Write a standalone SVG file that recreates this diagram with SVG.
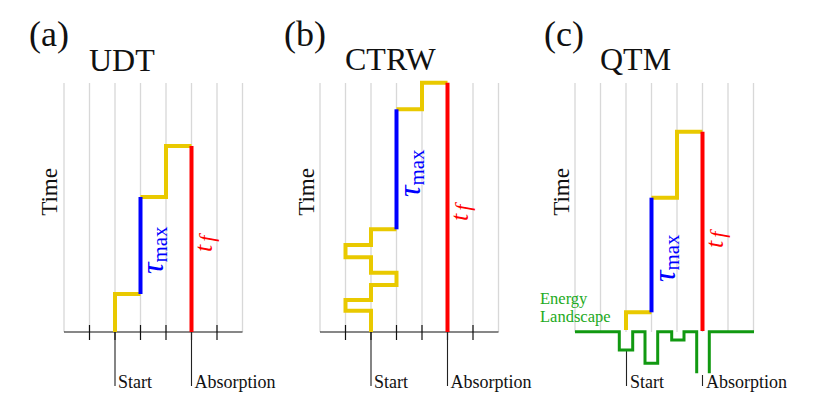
<svg xmlns="http://www.w3.org/2000/svg" width="831" height="416" viewBox="0 0 831 416">
<style>
.lbl{font-size:36px}
.ttl{font-size:32px}
.time{font-size:23px;text-anchor:middle}
.small{font-size:18px}
.grid{stroke:#d8d8d8;stroke-width:1.3;fill:none}
.axis{stroke:#111;stroke-width:1.2;fill:none}
.mark{stroke:#222;stroke-width:1.1;fill:none}
.yel{stroke:#e9c900;stroke-width:4;fill:none;stroke-linejoin:miter}
.blu{stroke:#0000ff;stroke-width:4;fill:none}
.red{stroke:#ff0000;stroke-width:4;fill:none}
.grn{stroke:#119911;stroke-width:3;fill:none;stroke-linejoin:miter}
.tau{fill:#0000ff}
.tf{fill:#ff0000}
.eng{fill:#22aa22;font-size:16.5px}
</style>
<g font-family="Liberation Serif, DejaVu Serif, serif" fill="#111">
<g id="panel-a">
<text class="lbl" x="29" y="46">(a)</text>
<text class="ttl" x="89" y="71">UDT</text>
<text class="time" transform="translate(57,192) rotate(-90)">Time</text>
<path class="grid" d="M64,83V332M89.5,83V332M115,83V332M140.5,83V332M166,83V332M191.5,83V332M217,83V332M242.5,83V332"/>
<path class="axis" d="M64,332H242.5M89.5,325V340M115,325V340M140.5,325V340M166,325V340M191.5,325V340M217,325V340"/>
<path class="mark" d="M115,332V386M191.5,332V386"/>
<path class="yel" d="M115,332V294H140.5"/>
<path class="yel" d="M140.5,197H166V146H191.5"/>
<path class="blu" d="M140.5,294V197"/>
<path class="red" d="M191.5,146V332"/>
<text class="tau" transform="translate(163,274) rotate(-90)"><tspan font-style="italic" font-size="32">τ</tspan><tspan font-size="21" dy="4">max</tspan></text>
<text class="tf" transform="translate(212,252) rotate(-90)"><tspan font-style="italic" font-size="26">t</tspan><tspan font-style="italic" font-size="22" dx="3" dy="2">f</tspan></text>
<text class="small" x="118" y="388">Start</text>
<text class="small" x="194.5" y="388">Absorption</text>
</g>
<g id="panel-b">
<text class="lbl" x="284" y="46">(b)</text>
<text class="ttl" x="345" y="70">CTRW</text>
<text class="time" transform="translate(314,192) rotate(-90)">Time</text>
<path class="grid" d="M320,83V332M345.5,83V332M371,83V332M396.5,83V332M422,83V332M447.5,83V332M473,83V332M498.5,83V332"/>
<path class="axis" d="M320,332H498.5M345.5,325V340M371,325V340M396.5,325V340M422,325V340M447.5,325V340M473,325V340"/>
<path class="mark" d="M371,332V386M447.5,332V386"/>
<path class="yel" d="M371,332V310.7H345.5V300H371V285H396.5V272.7H371V257.3H345.5V245H371V229.3H396.5"/>
<path class="yel" d="M396.5,109.3H422V82.7H447.5"/>
<path class="blu" d="M396.5,229.3V109.3"/>
<path class="red" d="M447.5,82.7V332"/>
<text class="tau" transform="translate(420,197) rotate(-90)"><tspan font-style="italic" font-size="32">τ</tspan><tspan font-size="21" dy="4">max</tspan></text>
<text class="tf" transform="translate(468,221) rotate(-90)"><tspan font-style="italic" font-size="26">t</tspan><tspan font-style="italic" font-size="22" dx="3" dy="2">f</tspan></text>
<text class="small" x="374" y="388">Start</text>
<text class="small" x="450.5" y="388">Absorption</text>
</g>
<g id="panel-c">
<text class="lbl" x="544" y="46">(c)</text>
<text class="ttl" x="600" y="70">QTM</text>
<text class="time" transform="translate(569,192) rotate(-90)">Time</text>
<path class="grid" d="M575,83V332M600.5,83V332M626,83V332M651.5,83V332M677,83V332M702.5,83V332M728,83V332M753.5,83V332"/>
<text class="eng" x="540" y="303.5">Energy</text>
<text class="eng" x="540" y="322">Landscape</text>
<path class="mark" d="M626.5,350V386M702.5,375V386"/>
<path class="yel" d="M626,330V312.3H651.5"/>
<path class="yel" d="M651.5,197.7H677V131.7H702.5"/>
<path class="blu" d="M651.5,312.3V197.7"/>
<path class="red" d="M702.5,131.7V331"/>
<path class="grn" d="M575,331.7H619.3V350H632.7V331.7H645V363.3H657.7V331.7H671.7V340H684V331.7H696.7V373.3"/>
<path class="grn" d="M709.3,373.3V331.7H754"/>
<text class="tau" transform="translate(675,282) rotate(-90)"><tspan font-style="italic" font-size="32">τ</tspan><tspan font-size="21" dy="4">max</tspan></text>
<text class="tf" transform="translate(723,248) rotate(-90)"><tspan font-style="italic" font-size="26">t</tspan><tspan font-style="italic" font-size="22" dx="3" dy="2">f</tspan></text>
<text class="small" x="630" y="388">Start</text>
<text class="small" x="706" y="388">Absorption</text>
</g>
</g>
</svg>
